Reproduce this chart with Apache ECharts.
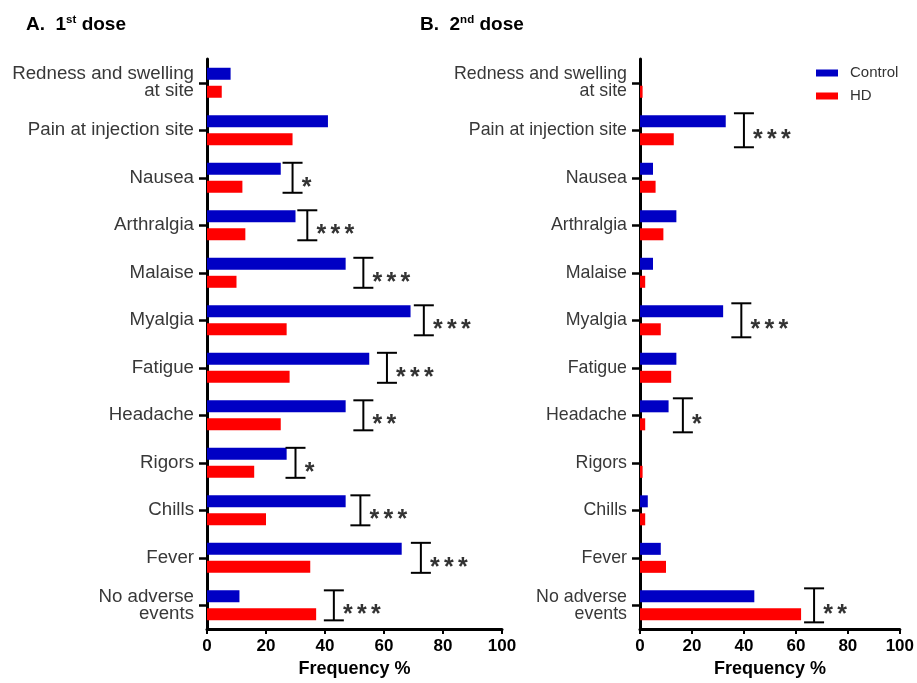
<!DOCTYPE html>
<html>
<head>
<meta charset="utf-8">
<script src="https://cdn.jsdelivr.net/npm/echarts@6/dist/echarts.min.js"></script>
<style>html,body{margin:0;padding:0;background:#fff}#c{width:917px;height:683px}</style>
</head>
<body>
<div id="c"></div>
<script>
const categories = ['Redness and swelling\nat site','Pain at injection site','Nausea','Arthralgia','Malaise','Myalgia','Fatigue','Headache','Rigors','Chills','Fever','No adverse\nevents'];
const dose1Control = [8,41,25,30,47,69,55,47,27,47,66,11];
const dose1HD      = [5,29,12,13,10,27,28,25,16,20,35,37];
const dose2Control = [0,33,5,14,5,32,14,11,0,3,8,44];
const dose2HD      = [1,13,6,9,2,8,12,2,1,2,10,62];
const xMin = 0, xMax = 100, xInterval = 20;
// significance brackets: category index, bracket position (%), stars
const sig1Cats  = [2,3,4,5,6,7,8,9,10,11];
const sig1X     = [29,34,53,73.5,61,53,30,52,72.5,43];
const sig1Stars = ['*','***','***','***','***','**','*','***','***','***'];
const sig2Cats  = [1,5,7,11];
const sig2X     = [40,39,16.5,67];
const sig2Stars = ['***','***','*','**'];

const FONT = "'Liberation Sans', Arial, sans-serif";
const BLUE = '#0000c4', RED = '#ff0000';

const chart = echarts.init(document.getElementById('c'));

function makeSig(cats, xs, stars, halfH, gi) {
  return {
    type: 'custom', xAxisIndex: gi, yAxisIndex: gi, silent: true, z: 10, clip: false,
    data: cats.map((c, i) => [xs[i], c]),
    renderItem: function (params, api) {
      const p = api.coord([api.value(0), api.value(1)]);
      const s = stars[params.dataIndex];
      const ch = [
        {type:'line', shape:{x1:p[0], y1:p[1]-halfH, x2:p[0], y2:p[1]+halfH}, style:{stroke:'#000', lineWidth:2}},
        {type:'line', shape:{x1:p[0]-10, y1:p[1]-halfH, x2:p[0]+10, y2:p[1]-halfH}, style:{stroke:'#000', lineWidth:2}},
        {type:'line', shape:{x1:p[0]-10, y1:p[1]+halfH, x2:p[0]+10, y2:p[1]+halfH}, style:{stroke:'#000', lineWidth:2}}
      ];
      for (let k = 0; k < s.length; k++) {
        ch.push({type:'text', style:{text:'*', x:p[0]+14+k*14, y:p[1]+10, fill:'#333',
          fontSize:25, fontWeight:'bold', fontFamily:FONT, align:'center', verticalAlign:'middle'}});
      }
      return {type:'group', children: ch};
    }
  };
}

function xAx(gi) {
  return {
    gridIndex: gi, type: 'value', min: xMin, max: xMax, interval: xInterval,
    name: 'Frequency %', nameLocation: 'middle', nameGap: 29,
    nameTextStyle: {fontSize: 18, fontWeight: 'bold', color: '#000', fontFamily: FONT},
    axisLine: {show: true, lineStyle: {color: '#000', width: 3}},
    axisTick: {show: true, length: 5, lineStyle: {color: '#000', width: 2}},
    axisLabel: {fontSize: 17, fontWeight: 'bold', color: '#000', fontFamily: FONT, margin: 9},
    splitLine: {show: false}
  };
}
function yAx(gi, fs) {
  return {
    gridIndex: gi, type: 'category', data: categories, inverse: true,
    axisLine: {show: true, lineStyle: {color: '#000', width: 3}},
    axisTick: {show: true, length: 8, alignWithLabel: true, lineStyle: {color: '#000', width: 2.5}},
    axisLabel: {fontSize: fs, color: '#383838', fontFamily: FONT, margin: 13, lineHeight: 17, align: 'right'},
    splitLine: {show: false}
  };
}
const barStyle = (c) => ({color: c});
const titleRich = {
  b: {fontSize: 19, fontWeight: 'bold', color: '#000', fontFamily: FONT, lineHeight: 22},
  s: {fontSize: 11.5, fontWeight: 'bold', color: '#000', fontFamily: FONT, verticalAlign: 'top', lineHeight: 12}
};

chart.setOption({
  animation: false,
  backgroundColor: '#fff',
  textStyle: {fontFamily: FONT},
  title: [
    {left: 21, top: 9, text: '{b|A.  1}{s|st}{b| dose}', textStyle: {rich: titleRich}},
    {left: 415, top: 9, text: '{b|B.  2}{s|nd}{b| dose}', textStyle: {rich: titleRich}}
  ],
  legend: {
    data: ['Control', 'HD'], orient: 'vertical', left: 816, top: 64, padding: 0,
    icon: 'rect', itemWidth: 22, itemHeight: 7, itemGap: 5,
    textStyle: {fontSize: 15, color: '#333', fontFamily: FONT, lineHeight: 18, padding: [0, 0, 0, 7]}
  },
  grid: [
    {left: 207, right: 415, top: 59, bottom: 47},
    {left: 640, right: 14, top: 59, bottom: 47}
  ],
  xAxis: [xAx(0), xAx(1)],
  yAxis: [yAx(0, 18.7), yAx(1, 17.8)],
  series: [
    {name: 'Control', type: 'bar', xAxisIndex: 0, yAxisIndex: 0, data: dose1Control, barWidth: 12, barGap: '50%', itemStyle: barStyle(BLUE)},
    {name: 'HD', type: 'bar', xAxisIndex: 0, yAxisIndex: 0, data: dose1HD, barWidth: 12, barGap: '50%', itemStyle: barStyle(RED)},
    {name: 'Control', type: 'bar', xAxisIndex: 1, yAxisIndex: 1, data: dose2Control, barWidth: 12, barGap: '50%', itemStyle: barStyle(BLUE)},
    {name: 'HD', type: 'bar', xAxisIndex: 1, yAxisIndex: 1, data: dose2HD, barWidth: 12, barGap: '50%', itemStyle: barStyle(RED)},
    makeSig(sig1Cats, sig1X, sig1Stars, 15, 0),
    makeSig(sig2Cats, sig2X, sig2Stars, 17, 1)
  ]
});
</script>
</body>
</html>
